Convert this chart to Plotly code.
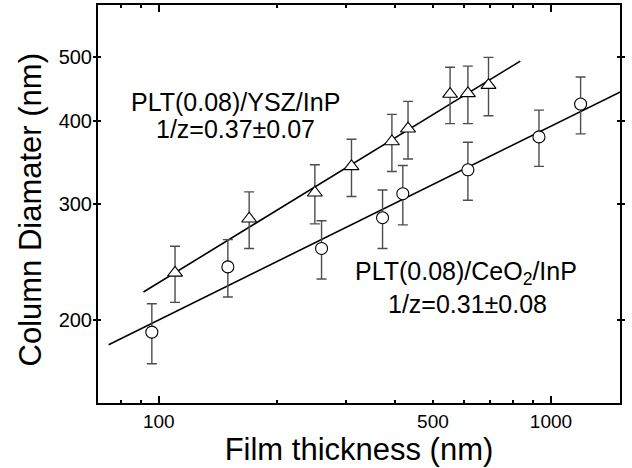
import plotly.graph_objects as go

# YSZ series (triangles)
ysz_x = [110, 170, 250, 310, 393, 432, 553, 614, 693]
ysz_y = [236, 285, 312, 342, 373, 390, 440, 441, 454]
ysz_err = [23, 28, 32, 34, 37, 39, 43, 44, 46]

# CeO2 series (circles)
ceo_x = [96, 150, 260, 372, 419, 614, 932, 1190]
ceo_y = [192, 241, 257, 286, 311, 338, 379, 425]
ceo_err = [20, 24, 26, 29, 32, 34, 37, 42]

# fitted power-law lines (end points)
ysz_fit_x = [91.4, 835]
ysz_fit_y = [220.8, 493.6]
ceo_fit_x = [74.5, 1505]
ceo_fit_y = [183.8, 443.6]

x_tickvals = [100, 500, 1000]
x_ticktext = ["100", "500", "1000"]
x_minor = [80, 90, 200, 300, 400, 600, 700, 800, 900]
x_long = [100, 1000]
y_tickvals = [200, 300, 400, 500]
y_ticktext = ["200", "300", "400", "500"]

FONT = "Liberation Sans, Arial, sans-serif"
ERRC = "#4d4d4d"

fig = go.Figure()

fig.add_trace(go.Scatter(x=ysz_fit_x, y=ysz_fit_y, mode="lines",
                         line=dict(color="black", width=1.6), showlegend=False))
fig.add_trace(go.Scatter(x=ceo_fit_x, y=ceo_fit_y, mode="lines",
                         line=dict(color="black", width=1.6), showlegend=False))

fig.add_trace(go.Scatter(
    x=ysz_x, y=ysz_y, mode="markers", showlegend=False,
    marker=dict(symbol="triangle-up", size=13, color="white",
                line=dict(color="black", width=1.1)),
    error_y=dict(type="data", array=ysz_err, visible=True,
                 color=ERRC, thickness=1.4, width=5)))
fig.add_trace(go.Scatter(
    x=ceo_x, y=ceo_y, mode="markers", showlegend=False,
    marker=dict(symbol="circle", size=12, color="white",
                line=dict(color="black", width=1.1)),
    error_y=dict(type="data", array=ceo_err, visible=True,
                 color=ERRC, thickness=1.4, width=5)))

# helper trace for the long-tick overlay axis
fig.add_trace(go.Scatter(x=[], y=[], xaxis="x2", yaxis="y", showlegend=False))

L, R, T, B = 98, 12, 5, 65
W, H = 632, 468
pw, ph = W - L - R, H - T - B

def px(x):
    return (x - L) / pw

def py(y):
    return (H - B - y) / ph

fig.update_layout(
    width=W, height=H,
    margin=dict(l=L, r=R, t=T, b=B, pad=0, autoexpand=False),
    paper_bgcolor="white", plot_bgcolor="white",
    font=dict(family=FONT, color="black"),
    xaxis=dict(
        type="log", range=[1.845, 3.176], automargin=False,
        tickvals=x_tickvals, ticktext=x_ticktext,
        ticks="inside", ticklen=3, tickwidth=1.5, tickcolor="black",
        minor=dict(tickvals=x_minor, ticks="inside", ticklen=3,
                   tickwidth=1.5, tickcolor="black", showgrid=False),
        showline=True, linecolor="black", linewidth=2, mirror="allticks",
        showgrid=False, zeroline=False,
        tickfont=dict(size=19, family=FONT),
        title=dict(text="Film thickness (nm)", font=dict(size=31, family=FONT),
                   standoff=2),
    ),
    xaxis2=dict(
        type="log", range=[1.845, 3.176], overlaying="x", side="bottom",
        automargin=False,
        tickvals=x_long, ticks="inside", ticklen=7, tickwidth=1.5,
        tickcolor="black", showticklabels=False, showline=False,
        mirror="allticks", showgrid=False, zeroline=False,
    ),
    yaxis=dict(
        type="log", range=[2.1761, 2.7782], automargin=False,
        tickvals=y_tickvals, ticktext=y_ticktext,
        ticks="inside", ticklen=3, tickwidth=1.5, tickcolor="black",
        showline=True, linecolor="black", linewidth=2, mirror="allticks",
        showgrid=False, zeroline=False,
        tickfont=dict(size=20, family=FONT),
    ),
    annotations=[
        dict(text="Column Diamater (nm)", textangle=-90, x=px(30), y=py(209.5),
             xref="paper", yref="paper", xanchor="center", yanchor="middle",
             showarrow=False, font=dict(size=31, family=FONT)),
        dict(text="PLT(0.08)/YSZ/InP", x=px(235), y=py(101.7), xref="paper", yref="paper",
             xanchor="center", yanchor="middle", showarrow=False,
             font=dict(size=25, family=FONT)),
        dict(text="1/z=0.37±0.07", x=px(235), y=py(128.8), xref="paper", yref="paper",
             xanchor="center", yanchor="middle", showarrow=False,
             font=dict(size=25, family=FONT)),
        dict(text="PLT(0.08)/CeO<sub>2</sub>/InP", x=px(466), y=py(273.3), xref="paper", yref="paper",
             xanchor="center", yanchor="middle", showarrow=False,
             font=dict(size=25, family=FONT)),
        dict(text="1/z=0.31±0.08", x=px(467), y=py(304.2), xref="paper", yref="paper",
             xanchor="center", yanchor="middle", showarrow=False,
             font=dict(size=25, family=FONT)),
    ],
)

fig.write_html(
    "out.html",
    config={"displayModeBar": False},
    post_script="document.body.style.margin='0';document.body.style.padding='0';"
                "document.documentElement.style.overflow='hidden';",
)
